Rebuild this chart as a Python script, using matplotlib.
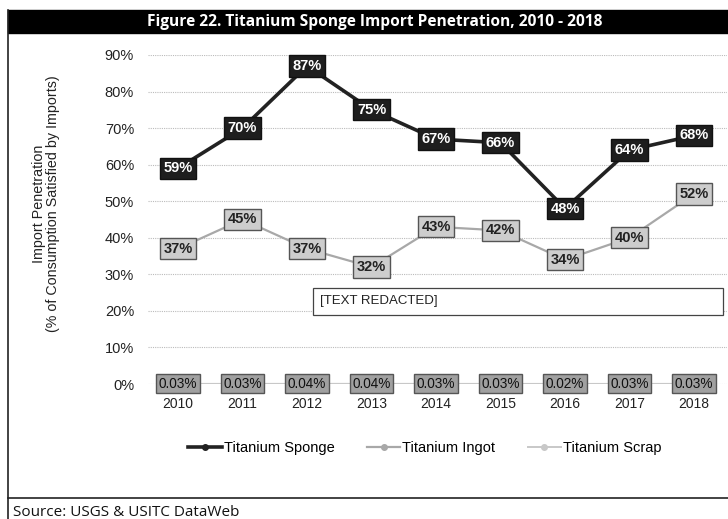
import matplotlib
matplotlib.use('Agg')
import matplotlib.pyplot as plt
from matplotlib.patches import Rectangle
from matplotlib.lines import Line2D

plt.rcParams['font.family'] = ['Liberation Sans', 'DejaVu Sans']

years = ['2010', '2011', '2012', '2013', '2014', '2015', '2016', '2017', '2018']
sponge = [59, 70, 87, 75, 67, 66, 48, 64, 68]
ingot = [37, 45, 37, 32, 43, 42, 34, 40, 52]
scrap = [0.03, 0.03, 0.04, 0.04, 0.03, 0.03, 0.02, 0.03, 0.03]
yticks = [0, 10, 20, 30, 40, 50, 60, 70, 80, 90]

W, H = 728, 519
fig = plt.figure(figsize=(7.28, 5.19), dpi=100)

def fx(px):
    return px / W

def fy(py):
    return 1 - py / H

# frame, title bar, source line
fig.add_artist(Line2D([fx(8), fx(8)], [0, fy(10)], color='#222222', lw=1.2))
fig.patches.append(Rectangle((fx(8), fy(33)), fx(720), 23 / H, transform=fig.transFigure,
                             facecolor='black', edgecolor='black'))
fig.text(fx(375), fy(21.5), 'Figure 22. Titanium Sponge Import Penetration, 2010 - 2018',
         color='white', fontsize=11.2, fontweight='bold', family='Open Sans',
         ha='center', va='center')
fig.add_artist(Line2D([fx(8), 1], [fy(498), fy(498)], color='#222222', lw=1.2))
fig.text(fx(13), fy(512), 'Source: USGS & USITC DataWeb', fontsize=11,
         family='Open Sans', ha='left', va='center', color='#111111')

ax = fig.add_axes([fx(148), fy(384), fx(727 - 148), (384 - 55) / H])
x = list(range(len(years)))

ax.plot(x, sponge, color='#222222', lw=2.6, zorder=3)
ax.plot(x, ingot, color='#a8a8a8', lw=1.6, zorder=2)
ax.plot(x, scrap, color='#c8c8c8', lw=1.4, zorder=2)

for xi, v in zip(x, sponge):
    ax.text(xi, v, f'{v}%', ha='center', va='center', fontsize=10.5, fontweight='bold',
            color='white', zorder=5,
            bbox=dict(boxstyle='square,pad=0.25', fc='#1e1e1e', ec='#111111', lw=1))
for xi, v in zip(x, ingot):
    ax.text(xi, v, f'{v}%', ha='center', va='center', fontsize=10.5, fontweight='bold',
            color='#222222', zorder=5,
            bbox=dict(boxstyle='square,pad=0.25', fc='#cdcdcd', ec='#555555', lw=1))
for xi, v in zip(x, scrap):
    ax.text(xi, v, f'{v:.2f}%', ha='center', va='center', fontsize=9.8,
            color='#111111', zorder=5, clip_on=False,
            bbox=dict(boxstyle='square,pad=0.18', fc='#a0a0a0', ec='#555555', lw=1))

ax.set_xlim(-0.465, 8.51)
ax.set_ylim(0, 90)
ax.set_yticks(yticks)
ax.set_yticklabels([f'{t}%' for t in yticks], fontsize=10.5, color='#222222')
ax.set_xticks(x)
ax.set_xticklabels(years, fontsize=10, color='#222222')
ax.tick_params(axis='both', length=0)
ax.tick_params(axis='y', pad=10)
ax.tick_params(axis='x', pad=9)
ax.grid(axis='y', color='#bbbbbb', lw=0.8, ls=(0, (1, 1)))
ax.set_axisbelow(True)
for s in ax.spines.values():
    s.set_visible(False)

fig.text(fx(46), fy(204),
         'Import Penetration\n(% of Consumption Satisfied by Imports)',
         rotation=90, ha='center', va='center', fontsize=10.3, color='#222222',
         linespacing=1.0)

# redacted box
ax.add_patch(Rectangle((2.09, 18.9), 6.36, 7.3, facecolor='white', edgecolor='#444444',
                       lw=0.9, zorder=4))
ax.text(2.2, 22.6, '[TEXT REDACTED]', fontsize=9.5, va='center', ha='left',
        color='#222222', zorder=5)

handles = [
    Line2D([], [], color='#222222', lw=2.6, marker='o', ms=4),
    Line2D([], [], color='#a8a8a8', lw=1.6, marker='o', ms=4),
    Line2D([], [], color='#c8c8c8', lw=1.4, marker='o', ms=4),
]
fig.legend(handles, ['Titanium Sponge', 'Titanium Ingot', 'Titanium Scrap'],
           loc='center', bbox_to_anchor=(fx(425), fy(448)), ncol=3, frameon=False,
           fontsize=10.5, handlelength=2.3, handletextpad=0.15, columnspacing=2.2)

fig.savefig('out.png', dpi=100)
